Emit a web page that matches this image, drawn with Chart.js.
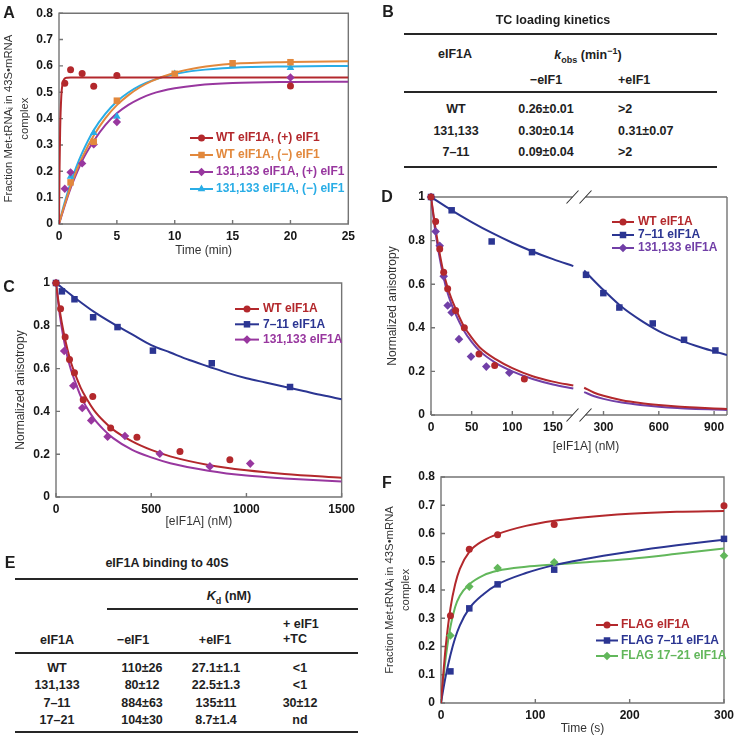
<!DOCTYPE html>
<html>
<head>
<meta charset="utf-8">
<title>eIF1A figure</title>
<script src="https://cdn.jsdelivr.net/npm/chart.js"></script>
<style>
  body { margin: 0; background: #fff; }
  #page { position: relative; width: 739px; height: 737px; overflow: hidden; background: #fff;
          font-family: "Liberation Sans", Arial, sans-serif; color: #1e1e1e; }
  .cv { position: absolute; }
  .t { position: absolute; white-space: nowrap; font-weight: bold; font-size: 12.5px; line-height: 14px;
       transform: translate(-50%, -50%); }
  .t.l { transform: translate(0, -50%); }
  .t sub, .t sup { font-size: 9px; line-height: 0; }
  .rule { position: absolute; height: 2px; background: #262626; }
  .letter { position: absolute; font-weight: bold; font-size: 16px; transform: translate(-50%, -50%); }
</style>
</head>
<body>
<div id="page">
  <canvas id="chartA" class="cv" width="360" height="262" style="left:0;top:0"></canvas>
  <canvas id="chartC" class="cv" width="360" height="270" style="left:0;top:262px"></canvas>
  <canvas id="chartD" class="cv" width="369" height="280" style="left:370px;top:180px"></canvas>
  <canvas id="chartF" class="cv" width="369" height="275" style="left:370px;top:462px"></canvas>
</div>
<script>
// ---------- A: TC loading time courses (min) ----------
const ticksAx = [0, 5, 10, 15, 20, 25]
const ticksAy = [0, 0.1, 0.2, 0.3, 0.4, 0.5, 0.6, 0.7, 0.8]
const wtPlusT = [0.5, 1, 2, 3, 5, 20]
const wtPlusY = [0.534, 0.585, 0.571, 0.523, 0.564, 0.524]
const wtMinusT = [1, 3, 5, 10, 15, 20]
const wtMinusY = [0.158, 0.312, 0.468, 0.57, 0.61, 0.614]
const mutPlusT = [0.5, 1, 2, 3, 5, 20]
const mutPlusY = [0.134, 0.196, 0.23, 0.302, 0.387, 0.556]
const mutMinusT = [1, 3, 5, 10, 15, 20]
const mutMinusY = [0.18, 0.346, 0.408, 0.57, 0.602, 0.593]
// fitted curves
const wtPlusFitT = [0, 0.05, 0.1, 0.2, 0.3, 0.45, 0.7, 1, 25]
const wtPlusFitY = [0, 0.22, 0.36, 0.486, 0.53, 0.55, 0.555, 0.556, 0.556]
const fitTA = [0, 0.25, 0.5, 1, 1.5, 2, 3, 4, 5, 6, 7, 8, 10, 12, 15, 20, 25]
const wtMinusFitY = [0, 0.039, 0.075, 0.142, 0.201, 0.252, 0.336, 0.401, 0.451, 0.489, 0.519, 0.542, 0.574, 0.593, 0.608, 0.615, 0.618]
const mutPlusFitY = [0, 0.035, 0.07, 0.135, 0.19, 0.24, 0.315, 0.375, 0.42, 0.452, 0.476, 0.494, 0.515, 0.527, 0.535, 0.539, 0.54]
const mutMinusFitY = [0, 0.043, 0.083, 0.155, 0.217, 0.27, 0.356, 0.418, 0.465, 0.499, 0.525, 0.544, 0.569, 0.583, 0.593, 0.598, 0.6]

// ---------- C: anisotropy titration ----------
const ticksCx = [0, 500, 1000, 1500]
const ticksCy = [0, 0.2, 0.4, 0.6, 0.8, 1]
const wtCx = [0, 24, 48, 71, 97, 143, 193, 287, 425, 651, 913]
const wtCy = [1, 0.88, 0.748, 0.643, 0.581, 0.455, 0.47, 0.322, 0.279, 0.213, 0.174]
const m711Cx = [0, 31, 97, 195, 323, 509, 818, 1229]
const m711Cy = [1, 0.961, 0.924, 0.84, 0.794, 0.684, 0.625, 0.514]
const m131Cx = [0, 43, 91, 138, 185, 271, 362, 545, 808, 1020]
const m131Cy = [1, 0.682, 0.52, 0.416, 0.358, 0.282, 0.285, 0.202, 0.143, 0.156]
const fitCx = [0, 20, 40, 60, 80, 100, 130, 160, 200, 250, 300, 400, 500, 600, 800, 1000, 1200, 1500]
const wtFitC = [1, 0.87, 0.77, 0.69, 0.625, 0.575, 0.51, 0.46, 0.405, 0.355, 0.315, 0.26, 0.22, 0.19, 0.15, 0.125, 0.108, 0.09]
const m131FitC = [1, 0.85, 0.74, 0.655, 0.59, 0.54, 0.47, 0.42, 0.365, 0.315, 0.275, 0.22, 0.185, 0.158, 0.123, 0.1, 0.087, 0.072]
const fit711Cx = [0, 100, 200, 300, 400, 500, 600, 700, 800, 900, 1000, 1100, 1200, 1300, 1400, 1500]
const m711FitC = [1, 0.93, 0.865, 0.81, 0.76, 0.71, 0.675, 0.64, 0.61, 0.58, 0.555, 0.535, 0.515, 0.495, 0.475, 0.457]

// ---------- D: same, broken x axis ----------
const ticksD1 = [0, 50, 100, 150]
const ticksD2 = [300, 600, 900]
const ticksDy = [0, 0.2, 0.4, 0.6, 0.8, 1]
const wtDx = [0, 5.7, 10.7, 15.6, 20.5, 30.3, 41, 59, 78.3, 114.8]
const wtDy = [1, 0.888, 0.761, 0.655, 0.579, 0.479, 0.4, 0.28, 0.227, 0.165]
const m131Dx = [0, 5.7, 10.7, 15.6, 20.5, 25.4, 34.4, 49.2, 68, 96.3]
const m131Dy = [1, 0.842, 0.776, 0.636, 0.502, 0.47, 0.348, 0.268, 0.222, 0.194]
const m711Dx1 = [0, 25.4, 74.6, 124.2]
const m711Dy1 = [1, 0.939, 0.796, 0.747]
const m711Dx2 = [205, 299, 386, 567, 737, 907]
const m711Dy2 = [0.643, 0.559, 0.493, 0.42, 0.345, 0.296]
const fitD1 = [0, 5, 10, 15, 20, 25, 30, 40, 50, 60, 80, 100, 125, 150, 175]
const wtFitD1 = [1, 0.87, 0.755, 0.66, 0.59, 0.535, 0.49, 0.41, 0.355, 0.31, 0.255, 0.215, 0.178, 0.153, 0.135]
const m131FitD1 = [1, 0.85, 0.735, 0.64, 0.565, 0.51, 0.465, 0.39, 0.335, 0.293, 0.238, 0.2, 0.165, 0.14, 0.122]
const fit711D1 = [0, 25, 50, 75, 100, 125, 150, 175]
const m711FitD1 = [1, 0.94, 0.885, 0.835, 0.79, 0.75, 0.715, 0.683]
const fitD2 = [195, 250, 300, 400, 500, 600, 700, 800, 900, 970]
const m711FitD2 = [0.663, 0.615, 0.573, 0.495, 0.435, 0.385, 0.348, 0.318, 0.292, 0.275]
const wtFitD2 = [0.125, 0.102, 0.088, 0.068, 0.055, 0.046, 0.039, 0.034, 0.03, 0.028]
const m131FitD2 = [0.105, 0.086, 0.074, 0.057, 0.046, 0.038, 0.032, 0.028, 0.025, 0.023]

// ---------- F: FLAG-tagged time courses (s) ----------
const ticksFx = [0, 100, 200, 300]
const ticksFy = [0, 0.1, 0.2, 0.3, 0.4, 0.5, 0.6, 0.7, 0.8]
const flagT = [10, 30, 60, 120, 300]
const flagWt = [0.309, 0.544, 0.596, 0.632, 0.698]
const flag711 = [0.112, 0.335, 0.42, 0.472, 0.581]
const flag1721 = [0.239, 0.412, 0.478, 0.498, 0.521]
const fitTF = [0, 2, 5, 10, 15, 20, 30, 45, 60, 90, 120, 150, 200, 250, 300]
const flagWtFit = [0, 0.085, 0.2, 0.335, 0.42, 0.475, 0.535, 0.575, 0.598, 0.627, 0.645, 0.657, 0.67, 0.677, 0.68]
const flag711Fit = [0, 0.04, 0.095, 0.17, 0.23, 0.275, 0.335, 0.385, 0.42, 0.46, 0.488, 0.508, 0.535, 0.558, 0.578]
const flag1721Fit = [0, 0.07, 0.16, 0.27, 0.34, 0.38, 0.42, 0.452, 0.468, 0.482, 0.49, 0.497, 0.51, 0.528, 0.547]

// ---------- tables B and E ----------
const tcMutants = ['WT', '131,133', '7\u201311']
const tcMinus = ['0.26\u00b10.01', '0.30\u00b10.14', '0.09\u00b10.04']
const tcPlus = ['>2', '0.31\u00b10.07', '>2']
const kdMutants = ['WT', '131,133', '7\u201311', '17\u201321']
const kdMinus = ['110\u00b126', '80\u00b112', '884\u00b163', '104\u00b130']
const kdPlus = ['27.1\u00b11.1', '22.5\u00b11.3', '135\u00b111', '8.7\u00b11.4']
const kdTC = ['<1', '<1', '30\u00b112', 'nd']

const RED = '#b3282c', ORANGE = '#e2883c', PURPLE = '#98379f', CYAN = '#29ade6'
const BLUE = '#2b3592', VIOLET = '#713fa7', GREEN = '#62b75b'
const FAM = '"Liberation Sans", Arial, sans-serif'
const tickFont = { family: FAM, size: 12, weight: 'bold' }
const titleFont = { family: FAM, size: 12, lineHeight: 1.35 }
const longTitleFont = { family: FAM, size: 11.3, lineHeight: 1.43 }

function pts(xs, ys) { return xs.map((x, i) => ({ x: x, y: ys[i] })) }

function marks(label, xs, ys, color, style, r, axis) {
    return {
        label: label, data: pts(xs, ys), showLine: false, clip: false,
        pointStyle: style, pointRadius: r, pointHoverRadius: r,
        pointBackgroundColor: color, pointBorderColor: color, pointBorderWidth: 0,
        xAxisID: axis || 'x'
    }
}
function fit(xs, ys, color, axis) {
    return {
        data: pts(xs, ys), showLine: true, borderColor: color, borderWidth: 2,
        pointRadius: 0, cubicInterpolationMode: 'monotone', fill: false, xAxisID: axis || 'x'
    }
}

function drawMark(ctx, style, x, y, r, color) {
    ctx.fillStyle = color
    ctx.beginPath()
    if (style === 'circle') ctx.arc(x, y, r, 0, Math.PI * 2)
    else if (style === 'rect') { let s = r * Math.SQRT1_2; ctx.rect(x - s, y - s, 2 * s, 2 * s) }
    else if (style === 'rectRot') { ctx.moveTo(x - r, y); ctx.lineTo(x, y - r); ctx.lineTo(x + r, y); ctx.lineTo(x, y + r) }
    else if (style === 'triangle') {
        for (let k = 0; k < 3; k++) {
            let a = k * 2 * Math.PI / 3
            ctx.lineTo(x + Math.sin(a) * r, y - Math.cos(a) * r)
        }
    }
    ctx.closePath()
    ctx.fill()
}

// box, inward ticks, optional axis break and centred title
const framePlugin = {
    id: 'frame',
    beforeDatasetsDraw(chart, args, o) {
        const ctx = chart.ctx, a = chart.chartArea
        ctx.save()
        ctx.strokeStyle = '#747474'
        ctx.lineWidth = 1.4
        ctx.beginPath()
        if (o.gapAfter) {
            const g = chart.scales[o.gapAfter].right, h = 6.5
            for (const y of [a.top, a.bottom]) {
                ctx.moveTo(a.left, y); ctx.lineTo(g - h, y)
                ctx.moveTo(g + h, y); ctx.lineTo(a.right, y)
            }
            ctx.moveTo(a.left, a.top); ctx.lineTo(a.left, a.bottom)
            ctx.moveTo(a.right, a.top); ctx.lineTo(a.right, a.bottom)
            ctx.stroke()
            ctx.strokeStyle = '#333'
            ctx.lineWidth = 1.1
            ctx.beginPath()
            for (const y of [a.top, a.bottom])
                for (const c of [g - h, g + h]) { ctx.moveTo(c - 6, y + 6.5); ctx.lineTo(c + 6, y - 6.5) }
            ctx.stroke()
            ctx.strokeStyle = '#747474'
            ctx.lineWidth = 1.4
        } else {
            ctx.rect(a.left, a.top, a.right - a.left, a.bottom - a.top)
            ctx.stroke()
        }
        ctx.beginPath()
        Object.values(chart.scales).forEach(s => {
            s.ticks.forEach(t => {
                const p = s.getPixelForValue(t.value)
                if (s.axis === 'x') { ctx.moveTo(p, a.bottom); ctx.lineTo(p, a.bottom - 4) }
                else { ctx.moveTo(a.left, p); ctx.lineTo(a.left + 4, p) }
            })
        })
        ctx.stroke()
        if (o.title) {
            ctx.fillStyle = '#333'
            ctx.font = '12px ' + FAM
            ctx.textAlign = 'center'
            ctx.textBaseline = 'middle'
            ctx.fillText(o.title, (a.left + a.right) / 2 + (o.titleDx || 0), chart.height - o.titleBottom)
        }
        ctx.restore()
    }
}

// legend drawn inside the plot: line + marker + coloured label
const legendPlugin = {
    id: 'lineLegend',
    afterDatasetsDraw(chart, args, o) {
        if (o.x === undefined) return
        const ctx = chart.ctx
        ctx.save()
        ctx.font = 'bold 12px ' + FAM
        ctx.textBaseline = 'middle'
        let i = 0
        chart.data.datasets.forEach(ds => {
            if (!ds.label) return
            const y = o.y + i * o.dy
            i++
            ctx.strokeStyle = ds.pointBackgroundColor
            ctx.lineWidth = 2
            ctx.beginPath(); ctx.moveTo(o.x, y); ctx.lineTo(o.x + o.w, y); ctx.stroke()
            drawMark(ctx, ds.pointStyle, o.x + o.w / 2, y, ds.pointRadius, ds.pointBackgroundColor)
            ctx.fillStyle = ds.pointBackgroundColor
            ctx.fillText(ds.label, o.x + o.w + o.gap, y)
        })
        ctx.restore()
    }
}
Chart.register(framePlugin, legendPlugin)

function axis(min, max, tickVals, size, isX, title, titlePad, extra, tFont) {
    const s = {
        type: 'linear', min: min, max: max,
        grid: { display: false, drawTicks: false }, border: { display: false },
        afterBuildTicks: sc => { sc.ticks = tickVals.map(v => ({ value: v })) },
        afterFit: sc => { if (isX) sc.height = size; else sc.width = size },
        ticks: { font: tickFont, color: '#161616', padding: isX ? 5 : 6, autoSkip: false, maxRotation: 0,
                 callback: v => String(v) },
        title: { display: !!title, text: title, font: tFont || titleFont, color: '#333', padding: titlePad }
    }
    return Object.assign(s, extra || {})
}

function baseOptions(pad, scales, plugins) {
    return {
        responsive: false, animation: false, devicePixelRatio: 1, events: [],
        layout: { padding: pad },
        scales: scales,
        plugins: Object.assign({ legend: { display: false }, tooltip: { enabled: false } }, plugins)
    }
}

const yTitleF = ['Fraction Met-tRNA\u1d62 in 43S\u2022mRNA', 'complex']

// ---- A ----
new Chart(document.getElementById('chartA'), {
    type: 'scatter',
    data: {
        datasets: [
            marks('WT eIF1A, (+) eIF1', wtPlusT, wtPlusY, RED, 'circle', 3.5),
            marks('WT eIF1A, (\u2212) eIF1', wtMinusT, wtMinusY, ORANGE, 'rect', 4.6),
            marks('131,133 eIF1A, (+) eIF1', mutPlusT, mutPlusY, PURPLE, 'rectRot', 4.2),
            marks('131,133 eIF1A, (\u2212) eIF1', mutMinusT, mutMinusY, CYAN, 'triangle', 4.4),
            fit(wtPlusFitT, wtPlusFitY, RED),
            fit(fitTA, wtMinusFitY, ORANGE),
            fit(fitTA, mutPlusFitY, PURPLE),
            fit(fitTA, mutMinusFitY, CYAN)
        ]
    },
    options: baseOptions({ top: 10, right: 10, left: 0, bottom: 0 }, {
        x: axis(0, 25, ticksAx, 38, true, 'Time (min)', { top: 0, bottom: 3 }),
        y: axis(0, 0.8, ticksAy, 59, false, yTitleF, { top: 1, bottom: 0 }, null, longTitleFont)
    }, {
        frame: {},
        lineLegend: { x: 190, y: 138, dy: 17, w: 23, gap: 3 }
    })
})

// ---- C ----
new Chart(document.getElementById('chartC'), {
    type: 'scatter',
    data: {
        datasets: [
            marks('WT eIF1A', wtCx, wtCy, RED, 'circle', 3.5),
            marks('7\u201311 eIF1A', m711Cx, m711Cy, BLUE, 'rect', 4.6),
            marks('131,133 eIF1A', m131Cx, m131Cy, PURPLE, 'rectRot', 4.3),
            fit(fitCx, wtFitC, RED),
            fit(fit711Cx, m711FitC, BLUE),
            fit(fitCx, m131FitC, PURPLE)
        ]
    },
    options: baseOptions({ top: 21, right: 14, left: 0, bottom: 0 }, {
        x: axis(0, 1500, ticksCx, 35, true, '[eIF1A] (nM)', { top: 0, bottom: 2 }),
        y: axis(0, 1, ticksCy, 56, false, 'Normalized anisotropy', { top: 13, bottom: 0 })
    }, {
        frame: {},
        lineLegend: { x: 235, y: 47, dy: 15.3, w: 24, gap: 4 }
    })
})

// ---- D: two x scales stacked side by side make the break ----
new Chart(document.getElementById('chartD'), {
    type: 'scatter',
    data: {
        datasets: [
            marks('WT eIF1A', wtDx, wtDy, RED, 'circle', 3.5, 'x1'),
            marks('7\u201311 eIF1A', m711Dx1, m711Dy1, BLUE, 'rect', 4.6, 'x1'),
            marks('131,133 eIF1A', m131Dx, m131Dy, VIOLET, 'rectRot', 4.3, 'x1'),
            marks(undefined, m711Dx2, m711Dy2, BLUE, 'rect', 4.6, 'x2'),
            fit(fitD1, wtFitD1, RED, 'x1'),
            fit(fit711D1, m711FitD1, BLUE, 'x1'),
            fit(fitD1, m131FitD1, VIOLET, 'x1'),
            fit(fitD2, wtFitD2, RED, 'x2'),
            fit(fitD2, m711FitD2, BLUE, 'x2'),
            fit(fitD2, m131FitD2, VIOLET, 'x2')
        ]
    },
    options: baseOptions({ top: 17, right: 12, left: 0, bottom: 0 }, {
        x1: axis(0, 182, ticksD1, 45, true, '', {}, { position: 'bottom', stack: 'brk', stackWeight: 1 }),
        x2: axis(167, 970, ticksD2, 45, true, '', {}, { position: 'bottom', stack: 'brk', stackWeight: 1 }),
        y: axis(0, 1, ticksDy, 61, false, 'Normalized anisotropy', { top: 15, bottom: 0 })
    }, {
        frame: { gapAfter: 'x1', title: '[eIF1A] (nM)', titleBottom: 13, titleDx: 7 },
        lineLegend: { x: 242, y: 42, dy: 13, w: 22, gap: 4 }
    })
})

// ---- F ----
new Chart(document.getElementById('chartF'), {
    type: 'scatter',
    data: {
        datasets: [
            marks('FLAG eIF1A', flagT, flagWt, RED, 'circle', 3.5),
            marks('FLAG 7\u201311 eIF1A', flagT, flag711, BLUE, 'rect', 4.6),
            marks('FLAG 17\u201321 eIF1A', flagT, flag1721, GREEN, 'rectRot', 4.3),
            fit(fitTF, flagWtFit, RED),
            fit(fitTF, flag711Fit, BLUE),
            fit(fitTF, flag1721Fit, GREEN)
        ]
    },
    options: baseOptions({ top: 15, right: 10, left: 0, bottom: 0 }, {
        x: axis(0, 300, ticksFx, 34, true, 'Time (s)', { top: 0, bottom: 0 }),
        y: axis(0, 0.8, ticksFy, 71, false, yTitleF, { top: 12, bottom: 0 }, null, longTitleFont)
    }, {
        frame: {},
        lineLegend: { x: 226, y: 163, dy: 15.5, w: 22, gap: 3 }
    })
})

// ---- text: panel letters and the two tables ----
const page = document.getElementById('page')
function txt(html, x, y, cls) {
    const d = document.createElement('div')
    d.className = cls || 't'
    d.innerHTML = html
    d.style.left = x + 'px'
    d.style.top = y + 'px'
    page.appendChild(d)
}
function rule(x1, x2, y) {
    const d = document.createElement('div')
    d.className = 'rule'
    d.style.left = x1 + 'px'
    d.style.width = (x2 - x1) + 'px'
    d.style.top = (y - 1) + 'px'
    page.appendChild(d)
}

txt('A', 9, 13, 'letter')
txt('B', 388, 12, 'letter')
txt('C', 9, 287, 'letter')
txt('D', 387, 197, 'letter')
txt('E', 10, 563, 'letter')
txt('F', 387, 483, 'letter')

// B
txt('TC loading kinetics', 553, 20)
rule(404, 717, 34)
txt('eIF1A', 455, 54)
txt('<i>k</i><sub>obs</sub> (min<sup>\u22121</sup>)', 588, 55)
txt('\u2212eIF1', 546, 80)
txt('+eIF1', 618, 80, 't l')
rule(404, 717, 92)
tcMutants.forEach((m, i) => {
    const y = 109 + i * 21.7
    txt(m, 456, y)
    txt(tcMinus[i], 546, y)
    txt(tcPlus[i], 618, y, 't l')
})
rule(404, 717, 167)

// E
txt('eIF1A binding to 40S', 167, 563)
rule(15, 358, 579)
txt('<i>K</i><sub>d</sub> (nM)', 229, 596)
rule(107, 358, 609)
txt('eIF1A', 57, 640)
txt('\u2212eIF1', 133, 640)
txt('+eIF1', 215, 640)
txt('+ eIF1', 283, 624, 't l')
txt('+TC', 283, 639, 't l')
rule(15, 358, 653)
kdMutants.forEach((m, i) => {
    const y = 668 + i * 17.3
    txt(m, 57, y)
    txt(kdMinus[i], 142, y)
    txt(kdPlus[i], 216, y)
    txt(kdTC[i], 300, y)
})
rule(15, 358, 732)
</script>
</body>
</html>
